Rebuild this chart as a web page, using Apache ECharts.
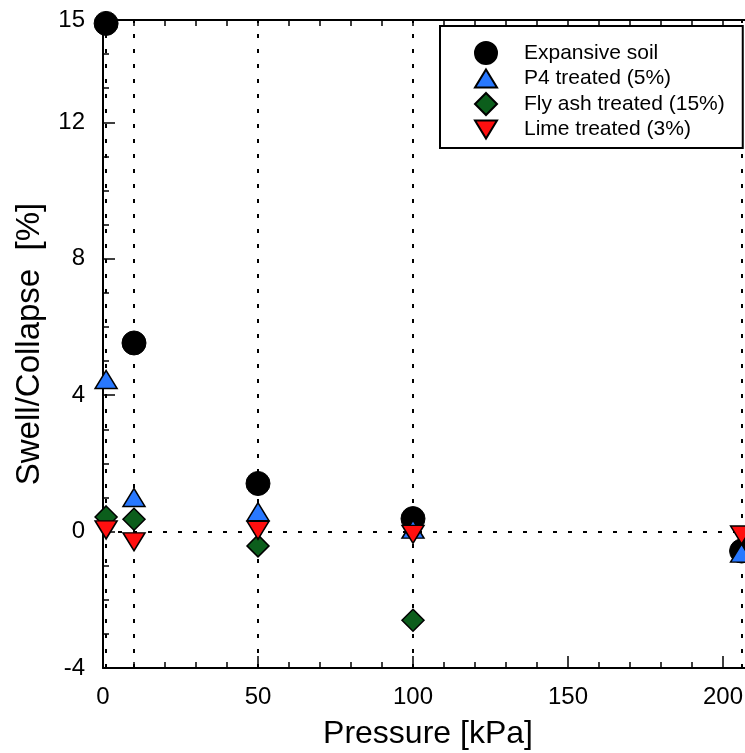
<!DOCTYPE html>
<html>
<head>
<meta charset="utf-8">
<script src="https://cdn.jsdelivr.net/npm/echarts@6/dist/echarts.min.js"></script>
<style>
html,body{margin:0;padding:0;background:#fff;}
#chart{width:745px;height:753px;}
</style>
</head>
<body>
<div id="chart"></div>
<script>
// ---- data ----
const pressures = [1, 10, 50, 100, 206];
const expansiveSoil = [14.9, 5.53, 1.41, 0.38, -0.57];
const p4Treated = [4.46, 1.0, 0.58, 0.07, -0.63];
const flyAshTreated = [0.43, 0.36, -0.42, -2.6, null];
const limeTreated = [0.05, -0.3, 0.04, -0.08, -0.1];
const seriesNames = ['Expansive soil', 'P4 treated (5%)', 'Fly ash treated (15%)', 'Lime treated (3%)'];
const refPressures = [1, 10, 50, 100, 206];
const refSwell = [0];
const xTickLabels = [0, 50, 100, 150, 200];
const yTickLabels = [-4, 0, 4, 8, 12, 15];

function pairs(vals) {
  return pressures.map((p, i) => [p, vals[i]]).filter(d => d[1] !== null);
}

const FONT = 'Liberation Sans, Arial, sans-serif';
const chart = echarts.init(document.getElementById('chart'), null, {renderer: 'canvas'});

const dotted = {type: [4, 11], color: '#000', width: 2};
const border = {borderColor: '#000', borderWidth: 1.5, opacity: 1};
const UP_TRI = 'path://M11,0L22,18L0,18Z';
const DOWN_TRI = 'path://M0,0L22,0L11,18Z';

const option = {
  backgroundColor: '#fff',
  animation: false,
  grid: [
    {left: 103, top: 20, right: -133, bottom: 85, containLabel: false, outerBoundsMode: 'none'},
    {left: 103, top: 20, right: -9, bottom: 85, containLabel: false, outerBoundsMode: 'none'}
  ],
  xAxis: [
    {
      gridIndex: 0, type: 'value', min: 0, max: 250, interval: 50, position: 'bottom',
      axisLine: {show: true, onZero: false, lineStyle: {color: '#000', width: 2}},
      axisTick: {show: true, inside: true, length: 12, lineStyle: {color: '#000', width: 1.5}},
      minorTick: {show: true, splitNumber: 5, length: 6, lineStyle: {color: '#000', width: 1.5}},
      axisLabel: {
        show: true, margin: 17, color: '#000', fontSize: 24, fontFamily: FONT,
        formatter: v => (xTickLabels.indexOf(v) >= 0 ? String(v) : '')
      },
      splitLine: {show: false},
      name: 'Pressure [kPa]', nameLocation: 'middle', nameGap: 50,
      nameTextStyle: {color: '#000', fontSize: 32, fontFamily: FONT, padding: [0, 125, 0, 0]}
    },
    {
      gridIndex: 0, type: 'value', min: 0, max: 250, interval: 10, position: 'top',
      axisLine: {show: true, onZero: false, lineStyle: {color: '#000', width: 2}},
      axisTick: {show: true, inside: true, length: 6, lineStyle: {color: '#000', width: 1.5}},
      axisLabel: {show: false}, splitLine: {show: false}
    },
    {
      gridIndex: 1, type: 'value', min: 0, max: 210, show: false
    }
  ],
  yAxis: [
    {
      gridIndex: 0, type: 'value', min: -4, max: 15, interval: 4, position: 'left',
      axisLine: {show: true, onZero: false, lineStyle: {color: '#000', width: 2}},
      axisTick: {show: true, inside: true, length: 12, lineStyle: {color: '#000', width: 1.5}},
      axisLabel: {
        show: true, margin: 18, color: '#000', fontSize: 24, fontFamily: FONT,
        formatter: v => (yTickLabels.indexOf(v) >= 0 ? String(v) : '')
      },
      splitLine: {show: false},
      name: 'Swell/Collapse  [%]', nameLocation: 'middle', nameGap: 57,
      nameTextStyle: {color: '#000', fontSize: 33, fontFamily: FONT}
    },
    {
      gridIndex: 1, type: 'value', min: -4, max: 15, interval: 1, position: 'left',
      axisLine: {show: false, onZero: false},
      axisTick: {show: true, inside: true, length: 6, lineStyle: {color: '#000', width: 1.5}},
      axisLabel: {show: false}, splitLine: {show: false}
    }
  ],
  legend: {
    show: true, orient: 'vertical', left: 440, top: 26,
    data: [
      {name: seriesNames[0], icon: 'circle'},
      {name: seriesNames[1], icon: UP_TRI},
      {name: seriesNames[2], icon: 'diamond'},
      {name: seriesNames[3], icon: DOWN_TRI}
    ],
    padding: [15, 18, 8, 34],
    itemWidth: 22, itemHeight: 22, itemGap: 3,
    borderColor: '#000', borderWidth: 2, backgroundColor: '#fff',
    textStyle: {color: '#000', fontSize: 21, fontFamily: FONT, lineHeight: 21, padding: [0, 0, 0, 22]}
  },
  series: [
    {
      type: 'scatter', name: '_ref', data: [], xAxisIndex: 0, yAxisIndex: 0, silent: true,
      markLine: {
        silent: true, symbol: 'none', z: 1, animation: false,
        label: {show: false},
        lineStyle: dotted,
        data: refPressures.map(p => ({xAxis: p})).concat(refSwell.map(v => ({yAxis: v})))
      }
    },
    {
      type: 'scatter', name: seriesNames[0], data: pairs(expansiveSoil), xAxisIndex: 0, yAxisIndex: 0,
      symbol: 'circle', symbolSize: 24, z: 3,
      itemStyle: {color: '#000', borderColor: '#000', borderWidth: 1, opacity: 1}
    },
    {
      type: 'scatter', name: seriesNames[1], data: pairs(p4Treated), xAxisIndex: 0, yAxisIndex: 0,
      symbol: 'triangle', symbolSize: [22, 18], z: 4,
      itemStyle: Object.assign({color: '#2878FF'}, border)
    },
    {
      type: 'scatter', name: seriesNames[2], data: pairs(flyAshTreated), xAxisIndex: 0, yAxisIndex: 0,
      symbol: 'diamond', symbolSize: [22, 22], z: 5,
      itemStyle: Object.assign({color: '#0C5E1C'}, border)
    },
    {
      type: 'scatter', name: seriesNames[3], data: pairs(limeTreated), xAxisIndex: 0, yAxisIndex: 0,
      symbol: 'triangle', symbolRotate: 180, symbolSize: [22, 18], z: 6,
      itemStyle: Object.assign({color: '#FF0F0F'}, border)
    }
  ]
};
chart.setOption(option);
</script>
</body>
</html>
